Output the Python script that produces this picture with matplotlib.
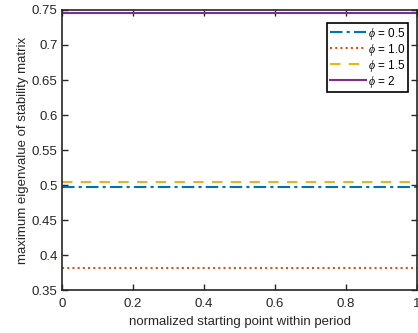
import numpy as np
import matplotlib
matplotlib.use("Agg")
import matplotlib.pyplot as plt

# Maximum eigenvalue of the stability matrix for each phi (flat over the period)
phi_labels = ["0.5", "1.0", "1.5", "2"]
max_eig = [0.497, 0.381, 0.505, 0.745]
start_points = [0.0, 1.0]

colors = ["#0072BD", "#D95319", "#EDB120", "#7E2F8E"]
styles = [(0, (6, 2, 1.5, 2)), (0, (1, 1.5)), (0, (5, 4)), "-"]

plt.rcParams["font.family"] = ["Liberation Sans", "DejaVu Sans"]
plt.rcParams["mathtext.fontset"] = "custom"
plt.rcParams["mathtext.it"] = "Liberation Serif:italic"

axis_col = "#262626"

fig = plt.figure(figsize=(4.18, 3.33), dpi=100)
ax = fig.add_axes([0.148, 0.129, 0.85, 0.841])

for lbl, val, c, ls in zip(phi_labels, max_eig, colors, styles):
    ax.plot(start_points, [val, val], color=c, linestyle=ls, linewidth=1.5,
            label=r"$\phi$ = " + lbl)

ax.set_xlim(0, 1)
ax.set_ylim(0.35, 0.75)
ax.set_xticks(np.arange(0, 1.01, 0.2))
ax.set_xticklabels(["0", "0.2", "0.4", "0.6", "0.8", "1"])
ax.set_yticks(np.arange(0.35, 0.751, 0.05))
ax.set_yticklabels(["0.35", "0.4", "0.45", "0.5", "0.55", "0.6", "0.65", "0.7", "0.75"])

ax.tick_params(direction="in", top=True, right=True, length=4, width=1,
               labelsize=9.5, colors=axis_col)
ax.tick_params(axis="x", pad=6)
ax.tick_params(axis="y", pad=3)
for sp in ax.spines.values():
    sp.set_linewidth(1.2)
    sp.set_color(axis_col)

ax.set_xlabel("normalized starting point within period", fontsize=9.5, color=axis_col, labelpad=4)
ax.set_ylabel("maximum eigenvalue of stability matrix", fontsize=9.5, color=axis_col, labelpad=2)

leg = ax.legend(loc="upper right", bbox_to_anchor=(0.975, 0.955), fontsize=8.5,
                fancybox=False, framealpha=1, edgecolor="black", handlelength=3.0,
                handletextpad=0.2, borderpad=0.25, labelspacing=0.0, borderaxespad=0)
leg.get_frame().set_linewidth(1.2)

fig.savefig("out.png", dpi=100)
